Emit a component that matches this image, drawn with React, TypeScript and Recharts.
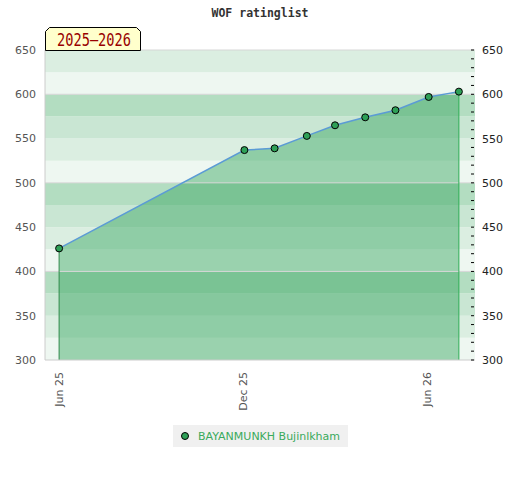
import React from "react";
import {
  ComposedChart,
  Area,
  Line,
  XAxis,
  YAxis,
  ReferenceArea,
  ReferenceLine,
} from "recharts";

const dates = [
  "2025-06-01",
  "2025-12-02",
  "2026-01-01",
  "2026-02-02",
  "2026-03-02",
  "2026-04-01",
  "2026-05-01",
  "2026-06-03",
  "2026-07-03",
];
const ratings = [426, 537, 539, 553, 565, 574, 582, 597, 603];
const xTickDates = ["2025-06-01", "2025-12-01", "2026-06-01"];
const xTickLabels = ["Jun 25", "Dec 25", "Jun 26"];
const xDomainDates = ["2025-05-18", "2026-07-19"];
const yTicks = [300, 350, 400, 450, 500, 550, 600, 650];
const yMinorTicks = [
  300, 310, 320, 330, 340, 350, 360, 370, 380, 390, 400, 410, 420, 430, 440,
  450, 460, 470, 480, 490, 500, 510, 520, 530, 540, 550, 560, 570, 580, 590,
  600, 610, 620, 630, 640, 650,
];
const bandStarts = [300, 325, 350, 375, 400, 425, 450, 475, 500, 525, 550, 575, 600, 625];
const gridValues = [400, 500, 600];
const playerName = "BAYANMUNKH Bujinlkham";
const chartTitle = "WOF ratinglist";
const periodLabel = "2025\u20132026";

const ts = (d: string) => Date.parse(d + "T00:00:00Z");

const data = dates.map((d, i) => ({ t: ts(d), v: ratings[i] }));
const xTicks = xTickDates.map(ts);
const xDomain = xDomainDates.map(ts);

const bandColor = (start: number) => {
  const m = ((start % 100) + 100) % 100;
  if (m === 0) return "#eef7f1";
  if (m === 25) return "#dbeee1";
  if (m === 50) return "#c9e6d3";
  return "#b3ddc1";
};

const XTick = (props: any) => {
  const { x, y, payload } = props;
  const idx = xTicks.indexOf(payload.value);
  const label = idx >= 0 ? xTickLabels[idx] : "";
  return (
    <text
      x={x}
      y={y + 4}
      transform={`rotate(-90, ${x}, ${y + 4})`}
      textAnchor="end"
      dy="0.36em"
      fontSize={11}
      fontFamily="DejaVu Sans"
      fill="#555"
    >
      {label}
    </text>
  );
};

const RightTick = (props: any) => {
  const { x, y, payload } = props;
  const axisX = x - 7;
  const show = payload.value % 50 === 0;
  return (
    <g>
      <line x1={axisX - 4} x2={axisX - 1} y1={y} y2={y} stroke="#000" strokeWidth={1} />
      {show && (
        <text
          x={x}
          y={y}
          dy="0.36em"
          textAnchor="start"
          fontSize={11}
          fontFamily="DejaVu Sans"
          fill="#222"
        >
          {payload.value}
        </text>
      )}
    </g>
  );
};

const LegendBox = () => (
  <div
    style={{
      position: "absolute",
      left: 173,
      top: 425,
      width: 175,
      height: 22,
      background: "#f0f0f0",
      display: "flex",
      alignItems: "center",
      fontFamily: "DejaVu Sans",
      fontSize: 11,
      color: "#3aaa5c",
      boxSizing: "border-box",
      paddingLeft: 7,
      whiteSpace: "nowrap",
    }}
  >
    <svg width={10} height={10} style={{ marginRight: 8 }}>
      <circle cx={5} cy={5} r={3.5} fill="#2ea057" stroke="#000" strokeWidth={1} />
    </svg>
    <span>{playerName}</span>
  </div>
);

export default function App() {
  return (
    <div style={{ position: "absolute", left: 0, top: 0, width: 520, height: 480 }}>
      <ComposedChart
        width={520}
        height={480}
        data={data}
        margin={{ top: 50, right: 0, left: 0, bottom: 60 }}
      >
        <XAxis
          dataKey="t"
          type="number"
          scale="time"
          domain={xDomain}
          ticks={xTicks}
          tick={<XTick />}
          tickLine={false}
          axisLine={{ stroke: "#cccccc" }}
          height={60}
          interval={0}
          allowDataOverflow
        />
        <YAxis
          yAxisId="l"
          orientation="left"
          domain={[300, 650]}
          ticks={yTicks}
          width={45}
          tickLine={false}
          tickMargin={3}
          axisLine={{ stroke: "#cccccc" }}
          tick={{ fontSize: 11, fontFamily: "DejaVu Sans", fill: "#555" }}
          interval={0}
          allowDataOverflow
        />
        <YAxis
          yAxisId="r"
          orientation="right"
          domain={[300, 650]}
          ticks={yMinorTicks}
          width={45}
          tickLine={false}
          tickSize={6}
          tickMargin={1}
          axisLine={false}
          tick={<RightTick />}
          interval={0}
          allowDataOverflow
        />
        {bandStarts.map((s) => (
          <ReferenceArea
            key={s}
            yAxisId="l"
            y1={s}
            y2={s + 25}
            fill={bandColor(s)}
            fillOpacity={1}
            stroke="none"
            ifOverflow="visible"
          />
        ))}
        {gridValues.map((g) => (
          <ReferenceLine key={g} yAxisId="l" y={g} stroke="#d6d6d6" strokeWidth={1} />
        ))}
        <ReferenceLine yAxisId="l" y={650} stroke="#d6d6d6" strokeWidth={1} />
        <Area
          yAxisId="l"
          type="linear"
          dataKey="v"
          stroke="none"
          fill="#37a65f"
          fillOpacity={0.46}
          isAnimationActive={false}
          dot={false}
          activeDot={false}
        />
        <ReferenceLine
          yAxisId="l"
          segment={[
            { x: data[0].t, y: 300 },
            { x: data[0].t, y: data[0].v },
          ]}
          stroke="#2f8a4a"
          strokeWidth={1}
        />
        <ReferenceLine
          yAxisId="l"
          segment={[
            { x: data[data.length - 1].t, y: 300 },
            { x: data[data.length - 1].t, y: data[data.length - 1].v },
          ]}
          stroke="#2fae55"
          strokeWidth={1}
        />
        <Line
          yAxisId="l"
          type="linear"
          dataKey="v"
          stroke="#5b9bd5"
          strokeWidth={1.5}
          isAnimationActive={false}
          dot={{ r: 3.5, fill: "#2ea057", fillOpacity: 1, stroke: "#000", strokeWidth: 1 }}
          activeDot={false}
          name={playerName}
        />
      </ComposedChart>
      <LegendBox />
      <svg
        width={520}
        height={480}
        style={{ position: "absolute", left: 0, top: 0, pointerEvents: "none" }}
      >
        <text
          x={260}
          y={17}
          textAnchor="middle"
          fontFamily="DejaVu Sans Mono"
          fontWeight="bold"
          fontSize={11.5}
          fill="#333"
          textLength={97}
          lengthAdjust="spacingAndGlyphs"
        >
          {chartTitle}
        </text>
        <polygon
          points="45.5,50.5 45.5,31.5 49.5,27.5 136.5,27.5 140.5,31.5 140.5,50.5"
          fill="#ffffcc"
          stroke="#000"
          strokeWidth={1}
        />
        <text
          x={57}
          y={46}
          fontFamily="DejaVu Sans Mono"
          fontSize={17}
          fill="#990000"
          textLength={74}
          lengthAdjust="spacingAndGlyphs"
        >
          {periodLabel}
        </text>
      </svg>
    </div>
  );
}
